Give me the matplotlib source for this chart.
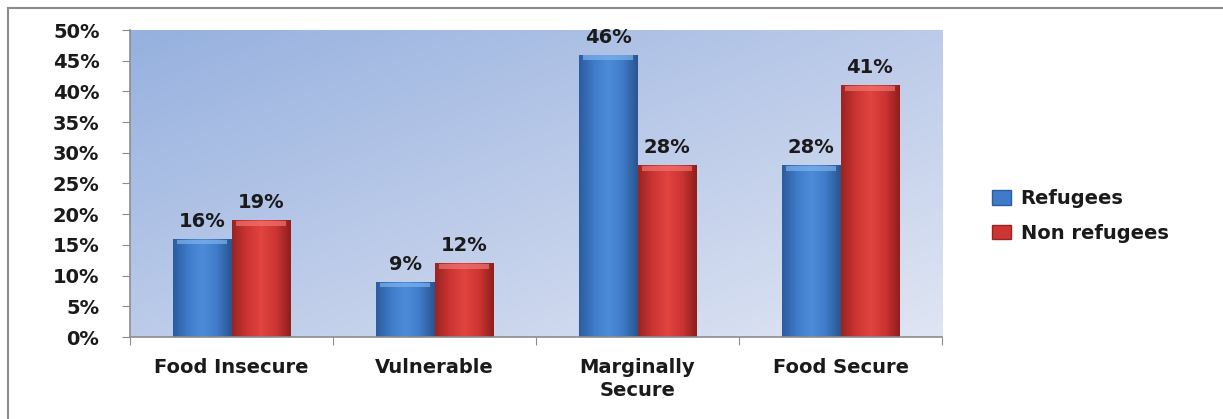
import numpy as np
import matplotlib
matplotlib.use("Agg")
import matplotlib.pyplot as plt
from matplotlib.patches import Rectangle
from matplotlib.colors import LinearSegmentedColormap

categories = ["Food Insecure", "Vulnerable", "Marginally\nSecure", "Food Secure"]
refugees = [16, 9, 46, 28]
non_refugees = [19, 12, 28, 41]
series_names = ["Refugees", "Non refugees"]
yticks = [0, 5, 10, 15, 20, 25, 30, 35, 40, 45, 50]

TXT = "#1a1a1a"
FS = 14
FONT = dict(family="DejaVu Sans", weight="bold", color=TXT)

# horizontal shading for the cylinder-like bars: dark rim, bright middle
blue_cmap = LinearSegmentedColormap.from_list(
    "blue_bar", ["#2c5c9f", "#3f7bc8", "#4d8cd9", "#3f7bc8", "#2a5590"])
red_cmap = LinearSegmentedColormap.from_list(
    "red_bar", ["#9a2422", "#cc3533", "#e2443f", "#cc3533", "#8e1f1d"])
blue_top = "#7fb3ec"
red_top = "#f07570"


def shaded_bars(ax, xs, heights, width, cmap, top_color):
    grad = np.linspace(0, 1, 64).reshape(1, -1)
    for x, h in zip(xs, heights):
        bar = ax.bar(x, h, width, color="none", edgecolor="none", zorder=2)[0]
        im = ax.imshow(grad, cmap=cmap, aspect="auto", zorder=2,
                       extent=[x - width / 2, x + width / 2, 0, h],
                       interpolation="bicubic")
        im.set_clip_path(bar)
        # bevelled top edge
        ax.add_patch(Rectangle((x - width / 2 + 0.02, h - 0.9), width - 0.04, 0.75,
                               facecolor=top_color, edgecolor="none",
                               alpha=0.7, zorder=3))
        ax.text(x, h + 1.3, f"{h}%", ha="center", va="bottom", fontsize=FS, **FONT)


fig = plt.figure(figsize=(12.23, 4.19), dpi=100)
fig.patch.set_facecolor("white")

# grey outline of the chart area
fig.add_artist(plt.Line2D([8 / 1223, 1], [1 - 8 / 419, 1 - 8 / 419],
                          transform=fig.transFigure, color="#8c8c8c", lw=1.5))
fig.add_artist(plt.Line2D([8 / 1223, 8 / 1223], [0, 1 - 8 / 419],
                          transform=fig.transFigure, color="#8c8c8c", lw=1.5))

ax = fig.add_axes([130 / 1223, 82 / 419, 812 / 1223, 307 / 419])

# plot area background: blue at the top left fading to pale at bottom right
yy, xx = np.mgrid[0:1:100j, 0:1:100j]
shade = np.clip(0.5 * yy + 0.5 * xx, 0, 1)
bg_cmap = LinearSegmentedColormap.from_list("bg", ["#96b1df", "#bccbe9", "#dfe5f3"])
ax.imshow(shade, cmap=bg_cmap, extent=[-0.5, 3.5, 0, 50], aspect="auto",
          origin="upper", zorder=0, interpolation="bicubic")

x = np.arange(len(categories))
w = 0.29
shaded_bars(ax, x - w / 2, refugees, w, blue_cmap, blue_top)
shaded_bars(ax, x + w / 2, non_refugees, w, red_cmap, red_top)

ax.set_xlim(-0.5, 3.5)
ax.set_ylim(0, 50)

ax.set_yticks(yticks)
ax.set_yticklabels([f"{t}%" for t in yticks], fontsize=FS, **FONT)
ax.tick_params(axis="y", direction="out", length=6, color="#8c8c8c", pad=16)

ax.set_xticks(np.arange(-0.5, 4, 1))
ax.set_xticklabels([])
ax.tick_params(axis="x", which="major", direction="out", length=6, color="#8c8c8c")
ax.set_xticks(x, minor=True)
ax.set_xticklabels(categories, minor=True, fontsize=FS, linespacing=1.3, **FONT)
ax.tick_params(axis="x", which="minor", length=0, pad=15)

for side in ["top", "right"]:
    ax.spines[side].set_visible(False)
for side in ["left", "bottom"]:
    ax.spines[side].set_color("#8c8c8c")
    ax.spines[side].set_linewidth(1.2)

handles = [Rectangle((0, 0), 1, 1, facecolor="#3f7bc8", edgecolor="#2c5c9f"),
           Rectangle((0, 0), 1, 1, facecolor="#cc3533", edgecolor="#9a2422")]
leg = ax.legend(handles, series_names, loc="center left",
                bbox_to_anchor=(974 / 1223, 1 - 216 / 419),
                bbox_transform=fig.transFigure, frameon=False,
                handlelength=1.0, handleheight=0.8, handletextpad=0.5,
                labelspacing=0.8, prop=dict(family="DejaVu Sans", weight="bold", size=FS))
for t in leg.get_texts():
    t.set_color(TXT)

fig.savefig("out.png", dpi=100)
